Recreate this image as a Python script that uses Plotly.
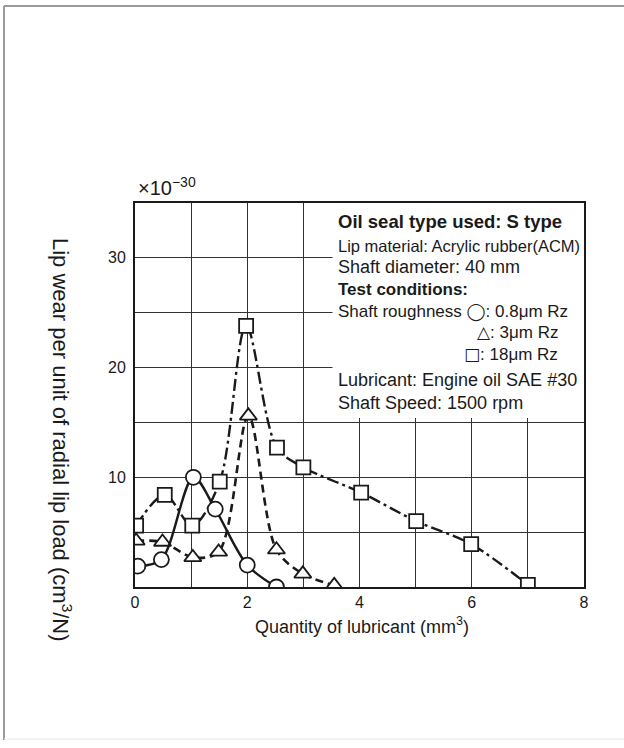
import plotly.graph_objects as go

# ---- data ----
circle_x = [0.05, 0.47, 1.04, 1.43, 2.0, 2.52]
circle_y = [1.9, 2.5, 10.0, 7.1, 2.0, 0.0]

tri_x = [0.02, 0.49, 1.03, 1.49, 2.02, 2.52, 2.99, 3.55]
tri_y = [4.2, 4.1, 2.7, 3.2, 15.6, 3.4, 1.2, 0.15]

sq_x = [0.02, 0.53, 1.02, 1.51, 1.98, 2.53, 3.0, 4.03, 5.01, 5.99, 7.0]
sq_y = [5.6, 8.4, 5.6, 9.6, 23.8, 12.7, 10.9, 8.6, 6.0, 3.9, 0.2]

x_ticks = [0, 2, 4, 6, 8]
y_ticks = [10, 20, 30]

SYM = '<span style="font-family:DejaVu Sans">{}</span>'
# (text, x, y, anchor, size, bold)
box_lines = [
    ("Oil seal type used: S type", 3.58, 33.3, "left", 18.5, True),
    ("Lip material: Acrylic rubber(ACM)", 3.58, 31.1, "left", 16.5, False),
    ("Shaft diameter: 40 mm", 3.58, 29.2, "left", 18, False),
    ("Test conditions:", 3.58, 27.1, "left", 17, True),
    ("Shaft roughness " + SYM.format("◯") + ": 0.8μm Rz", 3.58, 25.1, "left", 17, False),
    (SYM.format("△") + ": 3μm Rz", 7.57, 23.2, "right", 17, False),
    (SYM.format("□") + ": 18μm Rz", 7.57, 21.2, "right", 17, False),
    ("Lubricant: Engine oil SAE #30", 3.58, 18.9, "left", 18, False),
    ("Shaft Speed: 1500 rpm", 3.58, 16.8, "left", 18, False),
]

FONT = "Liberation Sans, Arial, sans-serif"
INK = "#1a1a1a"

fig = go.Figure()

fig.add_trace(go.Scatter(
    x=sq_x, y=sq_y, mode="lines+markers",
    line=dict(color=INK, width=2.4, dash="12px,4px,3px,4px", shape="spline", smoothing=0.9),
    marker=dict(symbol="square", size=14, color="white", line=dict(color=INK, width=1.8)),
    showlegend=False, hoverinfo="skip"))
fig.add_trace(go.Scatter(
    x=tri_x, y=tri_y, mode="lines+markers",
    line=dict(color=INK, width=2.6, dash="8px,5px", shape="spline", smoothing=0.9),
    marker=dict(symbol="triangle-up", size=15, color="white", line=dict(color=INK, width=1.8)),
    showlegend=False, hoverinfo="skip"))
fig.add_trace(go.Scatter(
    x=circle_x, y=circle_y, mode="lines+markers",
    line=dict(color=INK, width=2.4, shape="spline", smoothing=0.9),
    marker=dict(symbol="circle", size=15, color="white", line=dict(color=INK, width=1.8)),
    showlegend=False, hoverinfo="skip"))

# white box for the conditions text (covers grid lines)
fig.add_shape(type="rect", xref="x", yref="y", x0=3.52, x1=8, y0=15.4, y1=35,
              fillcolor="white", line=dict(width=0), layer="between")

for t, xx, yy, anc, size, bold in box_lines:
    fig.add_annotation(x=xx, y=yy, xref="x", yref="y",
                       text=("<b>%s</b>" % t) if bold else t, showarrow=False,
                       xanchor=anc, yanchor="middle",
                       font=dict(family=FONT, size=size, color=INK))

L, R, T, B = 135, 40, 203, 161
W, H = 624, 748
pw, ph = W - L - R, H - T - B

def px(xp):
    return (xp - L) / pw

def py(yp):
    return (H - B - yp) / ph

fig.add_annotation(x=px(136), y=py(187), xref="paper", yref="paper",
                   text="×10<sup>−30</sup>", showarrow=False, xanchor="left", yanchor="middle",
                   font=dict(family=FONT, size=20, color=INK))
fig.add_annotation(x=px(62), y=py(440), xref="paper", yref="paper",
                   text="Lip wear per unit of radial lip load (cm<sup>3</sup>/N)", showarrow=False,
                   textangle=90, xanchor="center", yanchor="middle",
                   font=dict(family=FONT, size=22, color=INK))
fig.add_annotation(x=px(362), y=py(625), xref="paper", yref="paper",
                   text="Quantity of lubricant (mm<sup>3</sup>)", showarrow=False,
                   xanchor="center", yanchor="middle",
                   font=dict(family=FONT, size=18, color=INK))

# page frame lines
fig.add_shape(type="line", xref="paper", yref="paper", x0=px(4), x1=px(624), y0=py(6), y1=py(6),
              line=dict(color="#9a9a9a", width=2))
fig.add_shape(type="line", xref="paper", yref="paper", x0=px(4), x1=px(4), y0=py(6), y1=py(740),
              line=dict(color="#9a9a9a", width=2))
fig.add_shape(type="line", xref="paper", yref="paper", x0=px(4), x1=px(624), y0=py(739), y1=py(739),
              line=dict(color="#e6e6e6", width=1))

fig.update_xaxes(range=[0, 8], tickvals=x_ticks, ticktext=[str(v) for v in x_ticks],
                 showgrid=True, gridcolor="#333333", gridwidth=1.2,
                 minor=dict(dtick=1, tick0=0, showgrid=True, gridcolor="#333333", gridwidth=1.2),
                 showline=True, linecolor=INK, linewidth=2, mirror=True,
                 ticks="", zeroline=False, fixedrange=True,
                 tickfont=dict(family=FONT, size=16, color=INK))
fig.update_yaxes(range=[0, 35], tickvals=y_ticks, ticktext=[str(v) for v in y_ticks],
                 showgrid=True, gridcolor="#333333", gridwidth=1.2,
                 minor=dict(dtick=5, tick0=0, showgrid=True, gridcolor="#333333", gridwidth=1.2),
                 showline=True, linecolor=INK, linewidth=2, mirror=True,
                 ticks="", zeroline=False, fixedrange=True, ticklabelstandoff=4,
                 tickfont=dict(family=FONT, size=16, color=INK))

fig.update_layout(width=W, height=H, autosize=False,
                  margin=dict(l=L, r=R, t=T, b=B),
                  paper_bgcolor="white", plot_bgcolor="white",
                  font=dict(family=FONT, color=INK))

fig.write_html("out.html")
